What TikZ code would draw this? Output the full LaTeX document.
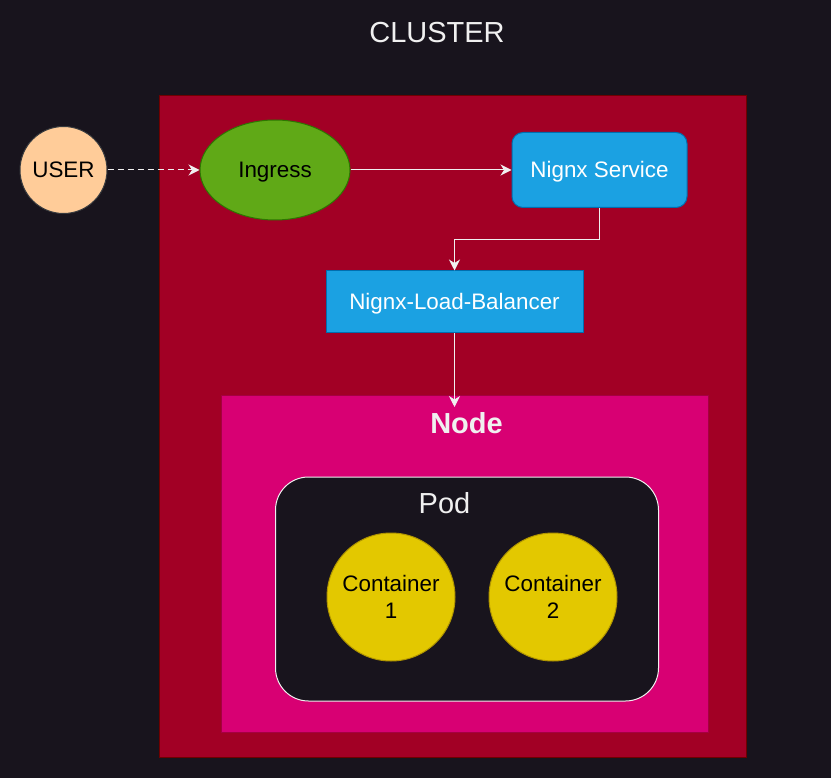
\documentclass[tikz,border=0pt]{standalone}
\usepackage{fontspec}
\setmainfont{Liberation Sans}
\usetikzlibrary{shapes.geometric,arrows.meta}
\definecolor{bgdark}{HTML}{18141D}
\definecolor{clusterred}{HTML}{A20025}
\definecolor{clusterline}{HTML}{6F0000}
\definecolor{nodepink}{HTML}{D80073}
\definecolor{nodeline}{HTML}{A50040}
\definecolor{svcblue}{HTML}{1BA1E2}
\definecolor{svcline}{HTML}{006EAF}
\definecolor{ingreen}{HTML}{60A917}
\definecolor{inline}{HTML}{2D7600}
\definecolor{ctyellow}{HTML}{E3C800}
\definecolor{ctline}{HTML}{B09500}
\definecolor{userpeach}{HTML}{FFCC99}
\definecolor{userline}{HTML}{36393D}
\definecolor{edgegrey}{HTML}{F0F0F0}
\begin{document}
\begin{tikzpicture}[x=1pt, y=-1pt,
    txt/.style={font=\fontsize{22.4}{27}\selectfont, align=center, text height=16pt, text depth=0pt, inner sep=0pt},
    bigtxt/.style={font=\fontsize{29}{35}\selectfont, text=edgegrey, text height=21pt, text depth=0pt, inner sep=0pt},
    box/.style={rectangle, line width=1pt, inner sep=0pt},
    container/.style={txt, circle, text height=43pt, draw=ctline, fill=ctyellow, line width=1pt, minimum size=128pt},
    flow/.style={draw=edgegrey, line width=1pt, -{Stealth[length=11pt, width=11pt, inset=3.5pt]}}]
    \useasboundingbox[fill=bgdark] (0,0) rectangle (831,778);
    % Frames
    \node[box, draw=clusterline, fill=clusterred, minimum width=587pt, minimum height=661pt] (cluster) at (452.5,426.5) {};
    \node[box, draw=nodeline, fill=nodepink, minimum width=487pt, minimum height=336pt] (knode) at (464.5,564) {};
    \node[box, draw=edgegrey, fill=bgdark, rounded corners=33pt, minimum width=383pt, minimum height=224pt] (pod) at (467,589) {};
    % Labels
    \node[bigtxt] (clusterlabel) at (437,32) {CLUSTER};
    \node[bigtxt, font=\fontsize{29}{35}\selectfont\bfseries] (knodelabel) at (466.5,422.5) {Node};
    \node[bigtxt] (podlabel) at (444.5,502.5) {Pod};
    % Nodes
    \node[txt, circle, draw=userline, fill=userpeach, line width=1pt, minimum size=87pt] (user) at (63.5,170) {USER};
    \node[txt, ellipse, draw=inline, fill=ingreen, line width=1pt, minimum width=150pt, minimum height=100pt] (ingress) at (275,170) {Ingress};
    \node[txt, box, text=white, draw=svcline, fill=svcblue, rounded corners=11pt, minimum width=175pt, minimum height=75pt] (service) at (599.5,170) {Nignx Service};
    \node[txt, box, text=white, draw=svcline, fill=svcblue, minimum width=257pt, minimum height=62pt] (balancer) at (454.5,302) {Nignx-Load-Balancer};
    \node[container] (cont1) at (391,597) {Container\\1};
    \node[container] (cont2) at (553,597) {Container\\2};
    \coordinate (nodein) at (454.5,407);
    % Edges
    \draw[flow, dash pattern=on 6pt off 4pt] (user) -- (ingress);
    \draw[flow] (ingress) -- (service);
    \draw[flow] (service.south) -- ++(0,32) -| (balancer.north);
    \draw[flow] (balancer.south) -- (nodein);
\end{tikzpicture}
\end{document}
